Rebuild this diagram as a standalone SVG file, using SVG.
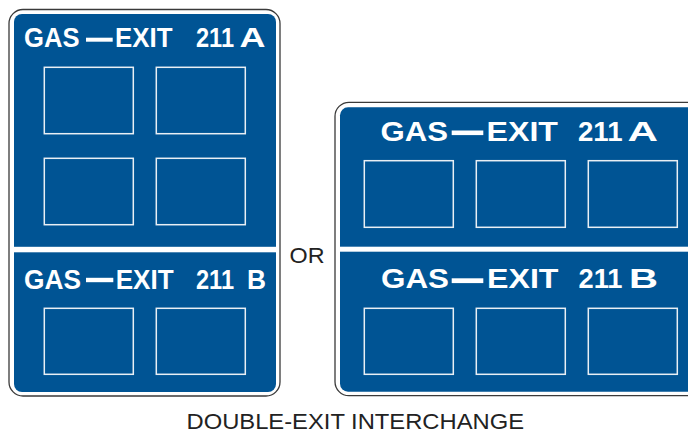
<svg xmlns="http://www.w3.org/2000/svg" width="688" height="435" viewBox="0 0 688 435">
<style>
.outer{fill:#ffffff;stroke:#3a3a3a;stroke-width:1.3}
.panel{fill:#005494}
.band{fill:#ffffff}
.box{fill:none;stroke:#e9eff5;stroke-width:1.5}
.sl{font-family:"Liberation Sans",Arial,sans-serif;font-weight:bold;font-size:28px;fill:#ffffff}
.dash{fill:#ffffff}
.cap{font-family:"Liberation Sans",Arial,sans-serif;font-size:22px;fill:#222222}
</style>
<rect width="688" height="435" fill="#ffffff"/>
<g id="sign-left">
  <rect class="outer" x="9" y="9.5" width="271" height="386.5" rx="14"/>
  <rect class="panel" x="14" y="14" width="262" height="378" rx="8"/>
  <rect class="band" x="14" y="246.8" width="262" height="5.5"/>
  <g id="left-a-legend">
    <text class="sl" x="24" y="47.3" textLength="55.5" lengthAdjust="spacingAndGlyphs">GAS</text>
    <rect class="dash" x="86" y="37.7" width="26.7" height="4"/>
    <text class="sl" x="115" y="47.3" textLength="57.5" lengthAdjust="spacingAndGlyphs">EXIT</text>
    <text class="sl" x="196" y="47.3" textLength="38" lengthAdjust="spacingAndGlyphs">211</text>
    <text class="sl" x="239.5" y="47.3" textLength="26" lengthAdjust="spacingAndGlyphs">A</text>
  </g>
  <rect class="box" x="44.3" y="67.3" width="89" height="66.4"/>
  <rect class="box" x="156.3" y="67.3" width="89" height="66.4"/>
  <rect class="box" x="44.3" y="158.3" width="89" height="66.4"/>
  <rect class="box" x="156.3" y="158.3" width="89" height="66.4"/>
  <g id="left-b-legend">
    <text class="sl" x="24" y="289.3" textLength="57" lengthAdjust="spacingAndGlyphs">GAS</text>
    <rect class="dash" x="86" y="277.8" width="27.3" height="4.4"/>
    <text class="sl" x="115.7" y="289.3" textLength="58" lengthAdjust="spacingAndGlyphs">EXIT</text>
    <text class="sl" x="196" y="289.3" textLength="38" lengthAdjust="spacingAndGlyphs">211</text>
    <text class="sl" x="247" y="289.3" textLength="19" lengthAdjust="spacingAndGlyphs">B</text>
  </g>
  <rect class="box" x="44.3" y="308.3" width="89" height="66"/>
  <rect class="box" x="156.3" y="308.3" width="89" height="66"/>
</g>
<g id="sign-right">
  <rect class="outer" x="335" y="102.3" width="370" height="293.4" rx="14"/>
  <rect class="panel" x="340" y="107.3" width="360" height="284.4" rx="8"/>
  <rect class="band" x="340" y="246.7" width="360" height="5"/>
  <g id="right-a-legend">
    <text class="sl" x="380.5" y="140.7" textLength="67.5" lengthAdjust="spacingAndGlyphs">GAS</text>
    <rect class="dash" x="451.7" y="130.5" width="31.6" height="4.6"/>
    <text class="sl" x="486.5" y="140.7" textLength="71.5" lengthAdjust="spacingAndGlyphs">EXIT</text>
    <text class="sl" x="578" y="140.7" textLength="44.5" lengthAdjust="spacingAndGlyphs">211</text>
    <text class="sl" x="627.5" y="140.7" textLength="30.5" lengthAdjust="spacingAndGlyphs">A</text>
  </g>
  <rect class="box" x="364.3" y="160.7" width="89" height="66.6"/>
  <rect class="box" x="476.3" y="160.7" width="89" height="66.6"/>
  <rect class="box" x="588.3" y="160.7" width="89" height="66.6"/>
  <g id="right-b-legend">
    <text class="sl" x="381" y="288.3" textLength="68" lengthAdjust="spacingAndGlyphs">GAS</text>
    <rect class="dash" x="451.7" y="278.3" width="31.6" height="4.8"/>
    <text class="sl" x="487" y="288.3" textLength="71.5" lengthAdjust="spacingAndGlyphs">EXIT</text>
    <text class="sl" x="578.5" y="288.3" textLength="44" lengthAdjust="spacingAndGlyphs">211</text>
    <text class="sl" x="629" y="288.3" textLength="29" lengthAdjust="spacingAndGlyphs">B</text>
  </g>
  <rect class="box" x="364.3" y="308.3" width="89" height="66"/>
  <rect class="box" x="476.3" y="308.3" width="89" height="66"/>
  <rect class="box" x="588.3" y="308.3" width="89" height="66"/>
</g>
<g id="connectors"/>
<text class="cap" x="289.5" y="263.3" textLength="35" lengthAdjust="spacingAndGlyphs">OR</text>
<text class="cap" x="186.5" y="429.3" font-size="23.5" textLength="337.5" lengthAdjust="spacingAndGlyphs">DOUBLE-EXIT INTERCHANGE</text>
</svg>
